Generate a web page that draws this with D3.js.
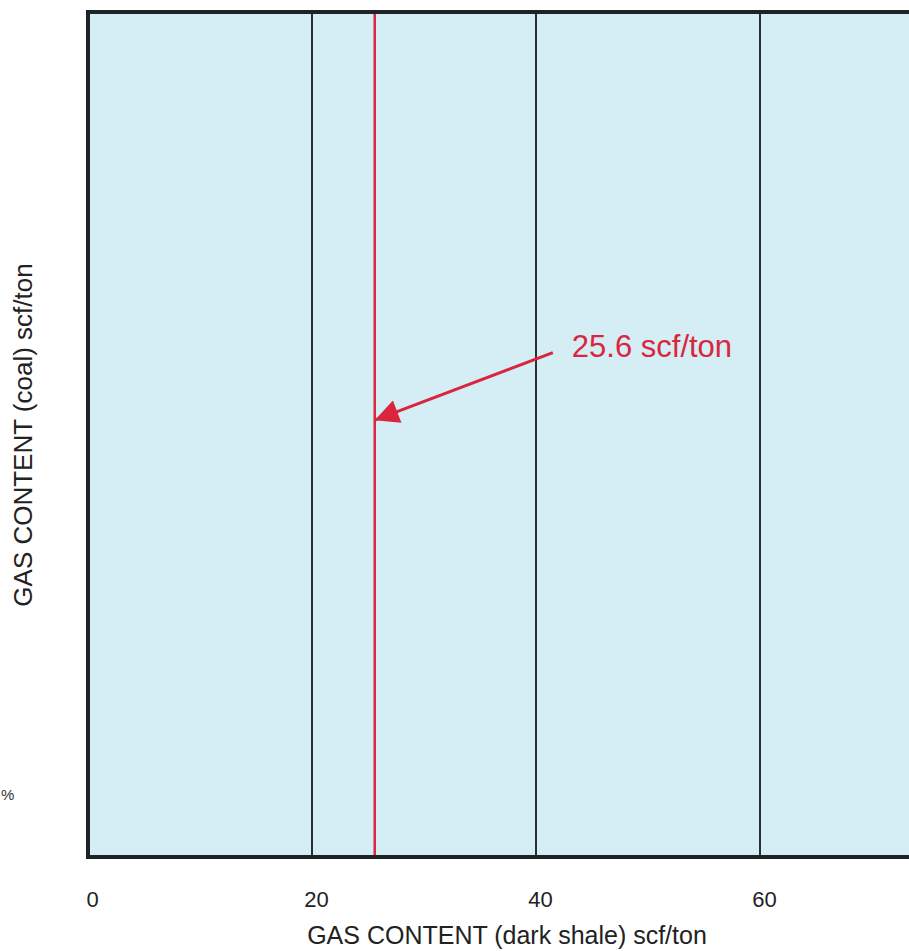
<!DOCTYPE html>
<html>
<head>
<meta charset="utf-8">
<script src="https://cdn.jsdelivr.net/npm/d3@7"></script>
<style>
  body { margin: 0; background: #fff; }
  text { font-family: "Liberation Sans", Arial, sans-serif; }
</style>
</head>
<body>
<script>
// data
var xTicks = [0, 20, 40, 60];
var gridValues = [20, 40, 60];
var markerValue = [25.6];
var markerLabel = ["25.6 scf/ton"];
// arrow annotation, in data units [x, y]
var arrowFrom = [41.5, 59.7];
var arrowTo = [25.6, 51.7];
var labelAt = [43.2, 59.2];

var width = 909, height = 951;
var plotLeft = 88, plotTop = 12, plotBottom = 857;

var svg = d3.select("body")
    .append("svg")
    .attr("width", width)
    .attr("height", height);

var x = d3.scaleLinear().domain([0, 80]).range([plotLeft, plotLeft + 80 * 11.2]);
var y = d3.scaleLinear().domain([0, 100]).range([plotBottom, plotTop]);

svg.append("defs").append("marker")
    .attr("id", "head")
    .attr("viewBox", "0 0 10 10")
    .attr("refX", 10)
    .attr("refY", 5)
    .attr("markerUnits", "userSpaceOnUse")
    .attr("markerWidth", 34)
    .attr("markerHeight", 24)
    .attr("orient", "auto")
    .append("path")
    .attr("d", "M0,0L10,5L0,10Z")
    .attr("fill", "#d9263d");

// plot background
svg.append("rect")
    .attr("x", x(0))
    .attr("y", y(100))
    .attr("width", x(80) - x(0))
    .attr("height", y(0) - y(100))
    .attr("fill", "#d5edf5");

// grid lines
svg.selectAll("line.grid")
    .data(gridValues).enter()
    .append("line")
    .attr("class", "grid")
    .attr("x1", function(d){ return x(d); })
    .attr("x2", function(d){ return x(d); })
    .attr("y1", y(100))
    .attr("y2", y(0))
    .attr("stroke", "#2a2f33")
    .attr("stroke-width", 2);

// red marker line
svg.selectAll("line.marker")
    .data(markerValue).enter()
    .append("line")
    .attr("class", "marker")
    .attr("x1", function(d){ return x(d); })
    .attr("x2", function(d){ return x(d); })
    .attr("y1", y(100))
    .attr("y2", y(0))
    .attr("stroke", "#d9263d")
    .attr("stroke-width", 2.5);

// frame
svg.append("rect")
    .attr("x", x(0))
    .attr("y", y(100))
    .attr("width", x(80) - x(0))
    .attr("height", y(0) - y(100))
    .attr("fill", "none")
    .attr("stroke", "#1f2326")
    .attr("stroke-width", 4);

// x axis labels
var xAxis = d3.axisBottom(x).tickValues(xTicks).tickSize(0).tickPadding(34);
var gx = svg.append("g")
    .attr("transform", "translate(4," + plotBottom + ")")
    .call(xAxis);
gx.select(".domain").remove();
gx.selectAll("text")
    .attr("font-size", "22px")
    .attr("fill", "#222")
    .attr("font-family", "Liberation Sans, Arial, sans-serif");

svg.append("text")
    .attr("x", 507)
    .attr("y", 944)
    .attr("text-anchor", "middle")
    .attr("font-size", "25px")
    .attr("fill", "#222")
    .text("GAS CONTENT (dark shale) scf/ton");

svg.append("text")
    .attr("transform", "translate(32,435) rotate(-90)")
    .attr("text-anchor", "middle")
    .attr("font-size", "26px")
    .attr("fill", "#222")
    .text("GAS CONTENT (coal) scf/ton");

svg.append("text")
    .attr("x", 1)
    .attr("y", 800)
    .attr("font-size", "15px")
    .attr("fill", "#333")
    .text("%");

// annotation
svg.append("line")
    .attr("x1", x(arrowFrom[0]))
    .attr("y1", y(arrowFrom[1]))
    .attr("x2", x(arrowTo[0]))
    .attr("y2", y(arrowTo[1]))
    .attr("stroke", "#d9263d")
    .attr("stroke-width", 3)
    .attr("marker-end", "url(#head)");

svg.selectAll("text.note")
    .data(markerLabel).enter()
    .append("text")
    .attr("class", "note")
    .attr("x", x(labelAt[0]))
    .attr("y", y(labelAt[1]))
    .attr("font-size", "31px")
    .attr("fill", "#d9263d")
    .text(function(d){ return d; });
</script>
</body>
</html>
